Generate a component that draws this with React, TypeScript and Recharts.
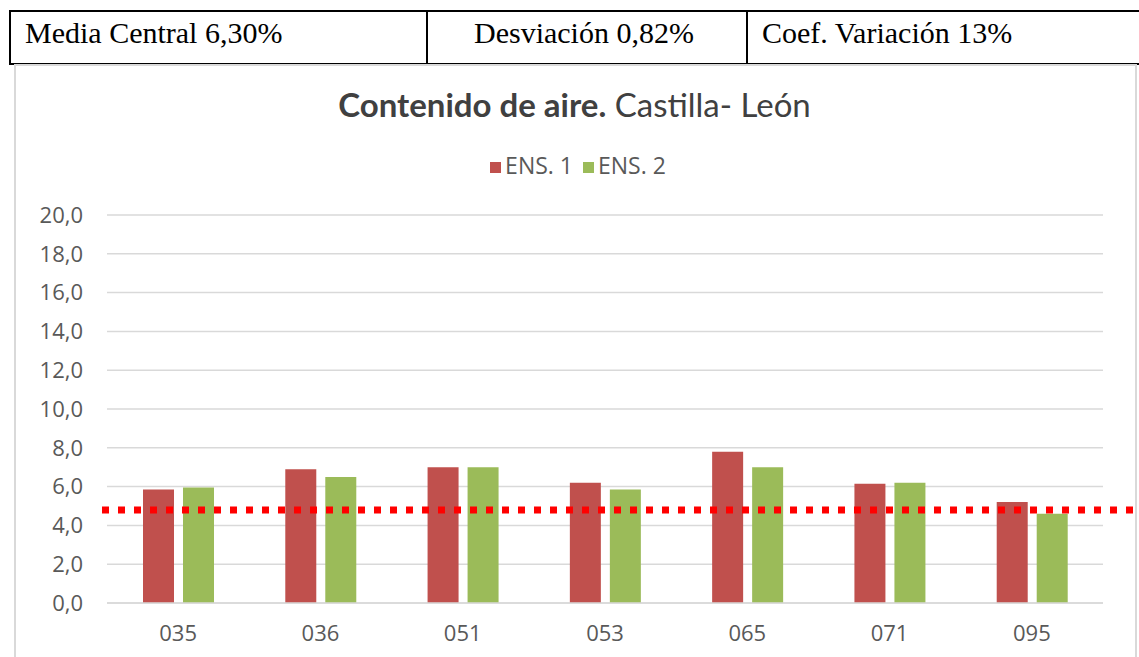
import React from 'react';
import { BarChart, Bar, XAxis, YAxis, CartesianGrid, Legend, ReferenceLine } from 'recharts';

const codes = ['035', '036', '051', '053', '065', '071', '095'];
const ens1 = [5.85, 6.9, 7.0, 6.2, 7.8, 6.15, 5.2];
const ens2 = [5.95, 6.5, 7.0, 5.85, 7.0, 6.2, 4.6];
const yTicks = [0, 2, 4, 6, 8, 10, 12, 14, 16, 18, 20];
const mediaLine = 4.8;

const data = codes.map((c, i) => ({ code: c, ens1: ens1[i], ens2: ens2[i] }));

const fmt = (v: number) => v.toFixed(1).replace('.', ',');

const DottedLine = (props: any) => {
  const { x1, x2, y1 } = props;
  return (
    <line x1={x1 - 5} x2={x2 + 32} y1={y1} y2={y1} stroke="#ff0000" strokeWidth={7} strokeDasharray="7 9" />
  );
};

const cellStyle: React.CSSProperties = {
  position: 'absolute',
  top: 0,
  height: '100%',
  fontFamily: '"Liberation Serif", serif',
  fontSize: 30,
  color: '#000',
  lineHeight: '42px',
  whiteSpace: 'nowrap',
};

const App: React.FC = () => {
  return (
    <div style={{ position: 'absolute', left: 0, top: 0, width: 1139, height: 657, background: '#fff', overflow: 'hidden' }}>
      {/* stats table */}
      <div style={{ position: 'absolute', left: 9, top: 10, width: 1140, height: 51, border: '2px solid #000', borderRight: 'none' }}>
        <div style={{ ...cellStyle, left: 14 }}>Media Central 6,30%</div>
        <div style={{ position: 'absolute', left: 415, top: 0, width: 2, height: '100%', background: '#000' }} />
        <div style={{ ...cellStyle, left: 463 }}>Desviación 0,82%</div>
        <div style={{ position: 'absolute', left: 735, top: 0, width: 2, height: '100%', background: '#000' }} />
        <div style={{ ...cellStyle, left: 751 }}>Coef. Variación 13%</div>
      </div>

      {/* chart frame */}
      <div style={{ position: 'absolute', left: 14, top: 64, width: 1119, height: 620, border: '2px solid #d9d9d9' }} />

      <div style={{ position: 'absolute', left: 0, top: 84, width: 1139, textAlign: 'center', fontFamily: 'Lato, sans-serif', fontSize: 33, color: '#404040', paddingLeft: 10, boxSizing: 'border-box' }}>
        <b>Contenido de aire.</b> Castilla- León
      </div>

      <div style={{ position: 'absolute', left: 0, top: 0 }}>
        <BarChart width={1139} height={657} data={data} margin={{ top: 215, right: 36, bottom: 0, left: 27 }} barSize={31} barGap={9}>
          <CartesianGrid vertical={false} stroke="#d9d9d9" strokeWidth={1.5} />
          <XAxis
            dataKey="code"
            height={54}
            axisLine={{ stroke: '#d9d9d9', strokeWidth: 1.5 }}
            tickLine={false}
            tickSize={0}
            tickMargin={22}
            tick={{ fill: '#595959', fontSize: 22, fontFamily: '"Open Sans", sans-serif' }}
          />
          <YAxis
            width={80}
            domain={[0, 20]}
            ticks={yTicks}
            tickFormatter={fmt}
            axisLine={false}
            tickLine={false}
            tickSize={0}
            tickMargin={24}
            tick={{ fill: '#595959', fontSize: 22, fontFamily: '"Open Sans", sans-serif' }}
          />
          <Legend
            verticalAlign="middle"
            align="center"
            iconType="square"
            iconSize={11}
            wrapperStyle={{ top: 149, marginLeft: 18, fontFamily: '"Open Sans", sans-serif', fontSize: 23 }}
            formatter={(v: string) => <span style={{ color: '#595959' }}>{v}</span>}
          />
          <Bar dataKey="ens1" name="ENS. 1" fill="#c0504d" isAnimationActive={false} />
          <Bar dataKey="ens2" name="ENS. 2" fill="#9bbb59" isAnimationActive={false} />
          <ReferenceLine y={mediaLine} shape={DottedLine} ifOverflow="visible" />
        </BarChart>
      </div>
    </div>
  );
};

export default App;
